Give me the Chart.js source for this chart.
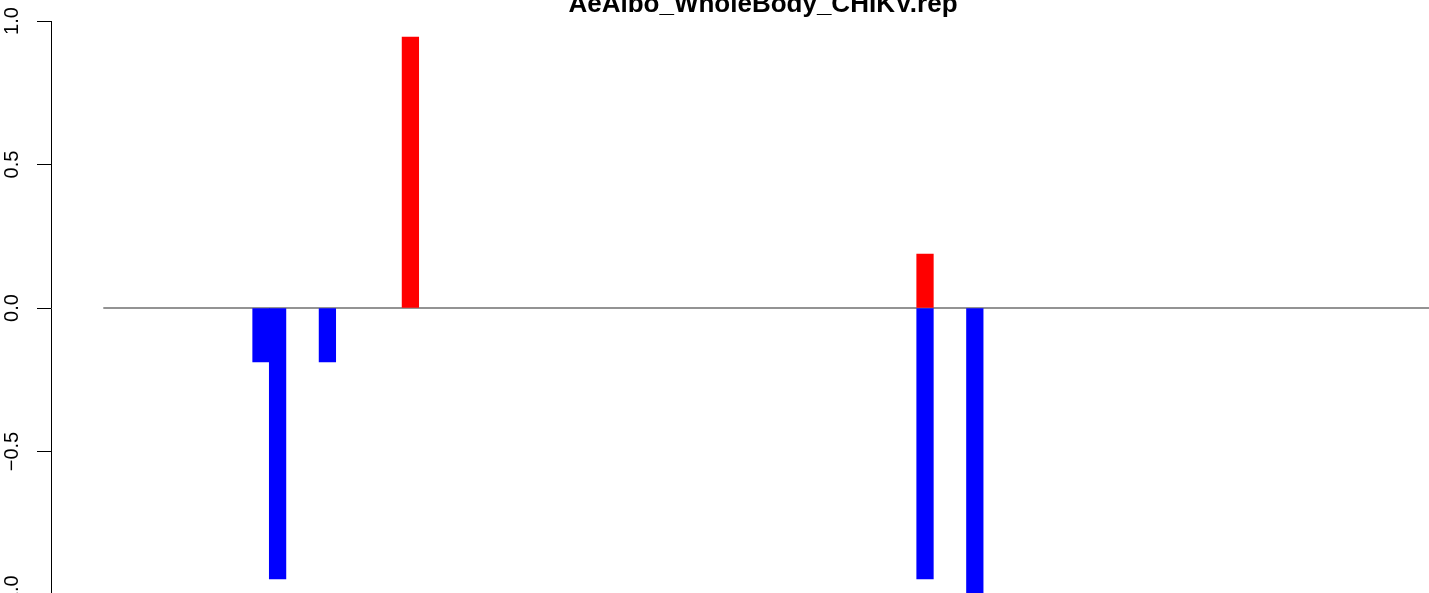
<!DOCTYPE html>
<html>
<head>
<meta charset="utf-8">
<script src="https://cdn.jsdelivr.net/npm/chart.js@4/dist/chart.umd.min.js"></script>
<style>
  html, body { margin: 0; padding: 0; background: #fff; overflow: hidden; }
  #wrap { width: 1475px; height: 600px; position: relative; }
</style>
</head>
<body>
<div id="wrap"><canvas id="grafico"></canvas></div>
<script>
const titulo = 'AeAlbo_WholeBody_CHIKV.rep';

// slots along x (bar positions, one unit each)
const totalSlots = 80;
const ganhoSlots = [18, 49];
const ganhoValores = [0.944, 0.188];
const perdaSlots = [9, 10, 13, 49, 52];
const perdaValores = [-0.188, -0.944, -0.188, -0.944, -1.0];

const yTicks = [-1, -0.5, 0, 0.5, 1];

function pontos(slots, valores) {
  return slots.map((s, i) => ({ x: s + 0.5, y: valores[i] }));
}

function formatarTick(v) {
  const txt = Math.abs(v).toFixed(1);
  return v < 0 ? '\u2212' + txt : txt;
}

const graficoCanvas = document.getElementById('grafico');

const data = {
  datasets: [
    {
      type: 'line',
      data: [{ x: 0, y: 0 }, { x: totalSlots, y: 0 }],
      borderColor: '#6f6f6f',
      borderWidth: 1.4,
      pointRadius: 0,
      stack: 'zero',
      order: 2,
    },
    {
      data: pontos(ganhoSlots, ganhoValores),
      backgroundColor: '#ff0000',
      stack: 'barras',
      order: 1,
    },
    {
      data: pontos(perdaSlots, perdaValores),
      backgroundColor: '#0000ff',
      stack: 'barras',
      order: 1,
    },
  ],
};

const options = {
  responsive: true,
  maintainAspectRatio: false,
  animation: false,
  layout: { padding: { left: 0, right: 0, top: 0, bottom: 5 } },
  datasets: {
    bar: { categoryPercentage: 1, barPercentage: 1, borderWidth: 0 },
  },
  plugins: {
    legend: { display: false },
    tooltip: { enabled: false },
    title: {
      display: true,
      text: titulo,
      fullSize: false,
      color: '#000',
      font: { family: 'Liberation Sans, Arial, sans-serif', size: 26, weight: 'bold' },
      padding: { top: -11, bottom: 0.8 },
    },
  },
  scales: {
    x: {
      type: 'linear',
      display: false,
      offset: false,
      stacked: true,
      min: -3.15,
      max: 82.63,
      ticks: { stepSize: 1000 },
    },
    y: {
      stacked: true,
      min: -1,
      max: 1,
      afterBuildTicks: (scale) => {
        scale.ticks = yTicks.map((v) => ({ value: v }));
      },
      afterFit: (scale) => {
        scale.width = 51;
        scale.paddingTop = 0;
        scale.paddingBottom = 0;
      },
      border: { display: true, color: '#000', width: 1 },
      grid: {
        drawOnChartArea: false,
        drawTicks: true,
        tickLength: 14,
        color: '#000',
        lineWidth: 1,
      },
      ticks: {
        minRotation: 90,
        maxRotation: 90,
        crossAlign: 'center',
        padding: 5,
        color: '#000',
        font: { family: 'Liberation Sans, Arial, sans-serif', size: 20 },
        callback: (v) => formatarTick(v),
      },
    },
  },
};

new Chart(graficoCanvas, {
  type: 'bar',
  data: data,
  options: options,
});
</script>
</body>
</html>
